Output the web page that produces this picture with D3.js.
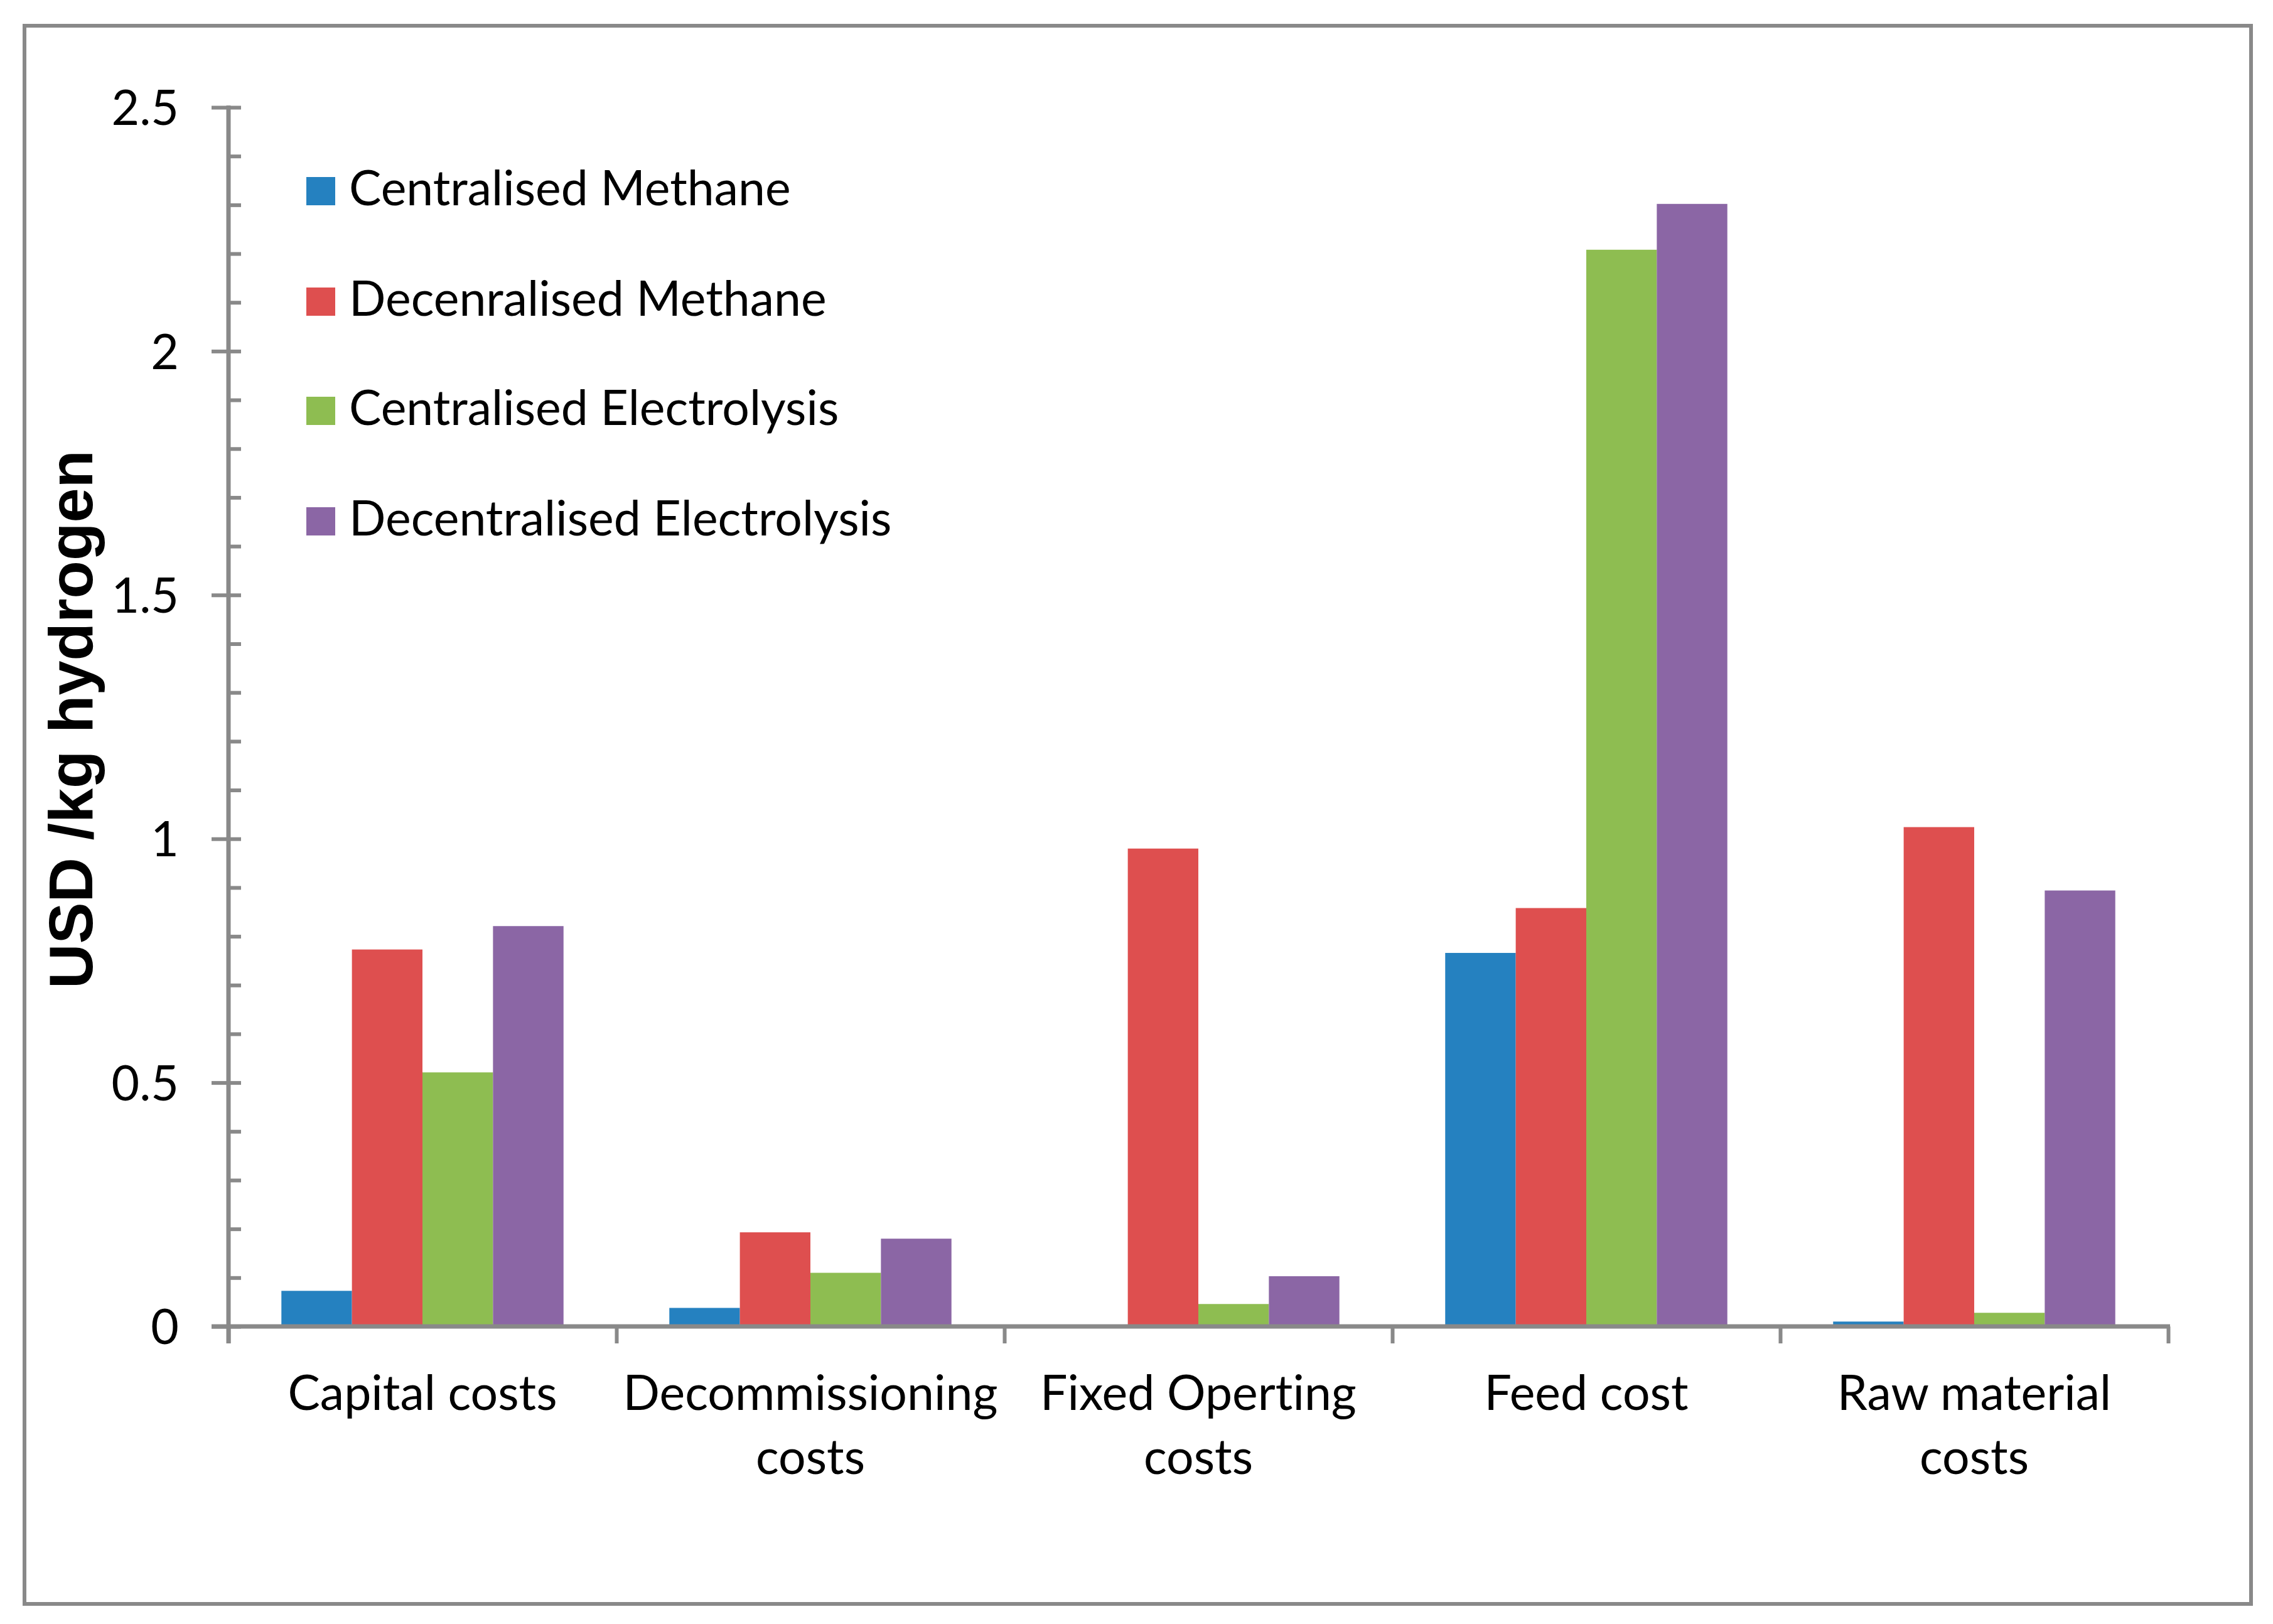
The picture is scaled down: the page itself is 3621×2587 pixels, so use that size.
<!DOCTYPE html>
<html>
<head>
<meta charset="utf-8">
<script src="https://d3js.org/d3.v7.min.js"></script>
<style>
  body { margin: 0; background: white; }
  text { font-variant-ligatures: none; font-feature-settings: "liga" 0, "clig" 0; }
</style>
</head>
<body>
<div id="chart"></div>
<script>
// data
var categories = ["Capital costs", "Decommissioning costs", "Fixed Operting costs", "Feed cost", "Raw material costs"];
var seriesNames = ["Centralised Methane", "Decenralised Methane", "Centralised Electrolysis", "Decentralised Electrolysis"];
var centralisedMethane = [0.073, 0.038, 0, 0.766, 0.01];
var decentralisedMethane = [0.773, 0.193, 0.98, 0.858, 1.024];
var centralisedElectrolysis = [0.521, 0.11, 0.046, 2.208, 0.028];
var decentralisedElectrolysis = [0.821, 0.18, 0.103, 2.302, 0.894];
var majorTicks = [0, 0.5, 1, 1.5, 2, 2.5];
var minorTicks = d3.range(0, 26).map(function (i) { return i / 10; });

var colors = ["#2581c0", "#de4f4f", "#8ebd51", "#8b66a5"];
var allSeries = [centralisedMethane, decentralisedMethane, centralisedElectrolysis, decentralisedElectrolysis];

var W = 3621, H = 2587;
var gray = "#898989";
var font = "Lato, 'Open Sans', sans-serif";
var fs = 77;

var svg = d3.select("#chart").append("svg")
    .attr("width", W).attr("height", H);

svg.append("rect").attr("width", W).attr("height", H).attr("fill", "white");

// outer frame
svg.append("rect")
    .attr("x", 39).attr("y", 41)
    .attr("width", 3586 - 39).attr("height", 2555 - 41)
    .attr("fill", "none").attr("stroke", gray).attr("stroke-width", 6);

var plotLeft = 364, plotRight = 3454, plotTop = 171, plotBottom = 2113;

var x = d3.scaleBand().domain(categories).range([plotLeft, plotRight]).paddingInner(0).paddingOuter(0);
var inner = d3.scaleBand().domain(d3.range(4)).range([0, x.bandwidth()]).paddingInner(0).paddingOuter(0.75);
var y = d3.scaleLinear().domain([0, 2.5]).range([plotBottom, plotTop]);

// bars
categories.forEach(function (c, ci) {
    allSeries.forEach(function (s, si) {
        svg.append("rect")
            .attr("x", x(c) + inner(si))
            .attr("y", y(s[ci]))
            .attr("width", inner.bandwidth())
            .attr("height", y(0) - y(s[ci]))
            .attr("fill", colors[si]);
    });
});

// y axis: minor ticks inside
var yMinor = svg.append("g").attr("transform", "translate(" + plotLeft + ",0)")
    .call(d3.axisRight(y).tickValues(minorTicks).tickSize(20).tickFormat(""));
yMinor.select(".domain").remove();

// y axis: major ticks outside with labels
var yMajor = svg.append("g").attr("transform", "translate(" + plotLeft + ",0)")
    .call(d3.axisLeft(y).tickValues(majorTicks).tickSize(27).tickPadding(52)
        .tickFormat(function (d) { return String(d); }));
yMajor.select(".domain").remove();
yMajor.selectAll("text")
    .attr("font-family", font).attr("font-size", fs).attr("fill", "black")
    .attr("dy", "0.36em");

svg.selectAll(".tick line").attr("stroke", gray).attr("stroke-width", 6);

// y axis line, running a bit below zero
svg.append("line")
    .attr("x1", plotLeft).attr("x2", plotLeft)
    .attr("y1", y(2.5) - 3).attr("y2", y(0) + 27)
    .attr("stroke", gray).attr("stroke-width", 7);

// x axis category boundary ticks
var xEdge = d3.scaleLinear().domain([0, categories.length]).range([plotLeft, plotRight]);
var xTicks = svg.append("g").attr("transform", "translate(0," + plotBottom + ")")
    .call(d3.axisBottom(xEdge).ticks(categories.length).tickSize(27).tickFormat(""));
xTicks.select(".domain").remove();
xTicks.selectAll(".tick line").attr("stroke", gray).attr("stroke-width", 6);

// x axis line
svg.append("line")
    .attr("x1", plotLeft - 27).attr("x2", plotRight + 3)
    .attr("y1", plotBottom).attr("y2", plotBottom)
    .attr("stroke", gray).attr("stroke-width", 7);

// category labels, wrapped to band width
var xLabels = svg.append("g").attr("transform", "translate(0," + plotBottom + ")")
    .call(d3.axisBottom(x).tickSize(0).tickPadding(0));
xLabels.select(".domain").remove();
xLabels.selectAll("text").each(function (d) {
    var t = d3.select(this);
    t.text(null).attr("y", 0).attr("dy", null)
        .attr("font-family", font).attr("font-size", fs).attr("fill", "black");
    var words = d.split(" "), lines = [], line = [];
    var probe = t.append("tspan");
    words.forEach(function (w) {
        var test = line.concat([w]).join(" ");
        probe.text(test);
        if (probe.node().getComputedTextLength() > x.bandwidth() * 0.93 && line.length) {
            lines.push(line.join(" "));
            line = [w];
        } else {
            line.push(w);
        }
    });
    lines.push(line.join(" "));
    probe.remove();
    lines.forEach(function (l, i) {
        t.append("tspan").attr("x", 0).attr("y", 133 + i * 102).text(l);
    });
});

// y axis title
svg.append("text")
    .attr("transform", "translate(147,1146) rotate(-90)")
    .attr("text-anchor", "middle")
    .attr("font-family", "'Liberation Sans', Arial, sans-serif")
    .attr("font-weight", "bold")
    .attr("font-size", 99)
    .text("USD /kg hydrogen");

// legend
var legendRows = [327, 503, 677, 853];
seriesNames.forEach(function (name, i) {
    svg.append("rect")
        .attr("x", 488).attr("y", legendRows[i] - 45)
        .attr("width", 46).attr("height", 45)
        .attr("fill", colors[i]);
    svg.append("text")
        .attr("x", 556).attr("y", legendRows[i])
        .attr("font-family", font).attr("font-size", fs)
        .text(name);
});
</script>
</body>
</html>
